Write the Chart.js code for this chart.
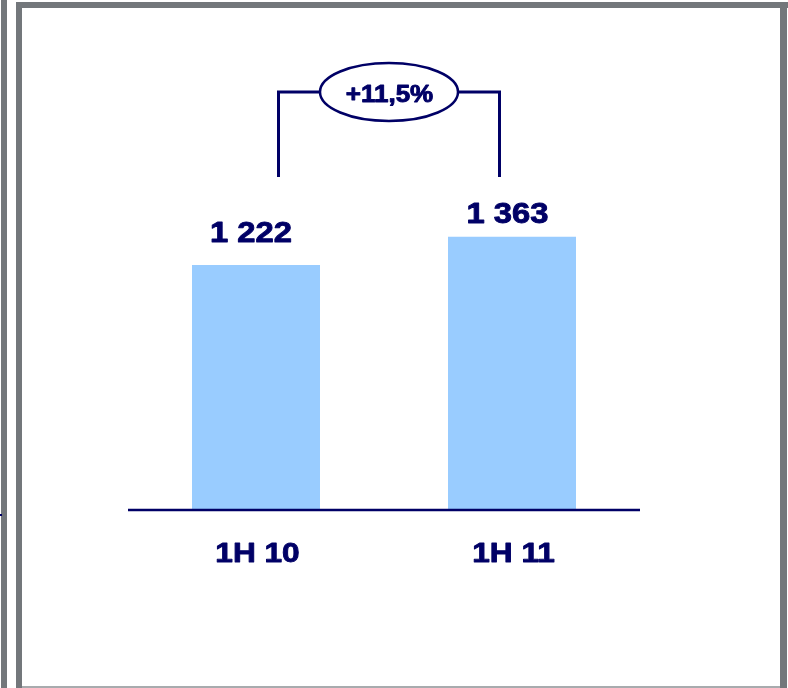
<!DOCTYPE html>
<html>
<head>
<meta charset="utf-8">
<script src="https://cdn.jsdelivr.net/npm/chart.js@4/dist/chart.umd.min.js"></script>
<style>
  html, body { margin: 0; padding: 0; background: #ffffff; }
  #wrap { position: relative; width: 788px; height: 688px; overflow: hidden; background: #fff; }
  .bar { position: absolute; background: #73777b; }
  canvas { position: absolute; left: 0; top: 0; }
</style>
</head>
<body>
<div id="wrap">
  <div class="bar" style="left:1px;top:0;width:6px;height:688px;"></div>
  <div class="bar" style="left:16px;top:2px;width:6px;height:686px;"></div>
  <div class="bar" style="left:16px;top:2px;width:772px;height:6px;"></div>
  <div class="bar" style="left:780px;top:2px;width:7px;height:686px;"></div>
  <div class="bar" style="left:22px;top:686px;width:758px;height:2px;background:#a8abae;"></div>
  <div style="position:absolute;left:0;top:514px;width:2px;height:2px;background:#000066;"></div>
  <canvas id="c" width="788" height="688"></canvas>
</div>
<script>
const categories = ['1H 10', '1H 11'];
const values = [1222, 1363];
const valueLabels = ['1 222', '1 363'];
const growthLabel = '+11,5%';

const NAVY = '#000066';
const FONT = '"Liberation Sans", Arial, sans-serif';
const STRETCH = 1.13;

function stretchedText(ctx, text, x, y, size) {
  ctx.save();
  ctx.font = 'bold ' + size + 'px ' + FONT;
  ctx.textAlign = 'center';
  ctx.textBaseline = 'alphabetic';
  ctx.fillStyle = NAVY;
  ctx.strokeStyle = NAVY;
  ctx.lineWidth = 0.9;
  ctx.lineJoin = 'round';
  ctx.translate(x, y);
  ctx.scale(STRETCH, 1);
  ctx.fillText(text, 0, 0);
  ctx.strokeText(text, 0, 0);
  ctx.restore();
}

const decor = {
  id: 'decor',
  afterDatasetsDraw(chart) {
    const ctx = chart.ctx;
    const xs = chart.scales.x;
    const ys = chart.scales.y;
    const area = chart.chartArea;
    const base = ys.getPixelForValue(0);

    // baseline
    ctx.save();
    ctx.strokeStyle = NAVY;
    ctx.lineWidth = 2.5;
    ctx.beginPath();
    ctx.moveTo(area.left, base);
    ctx.lineTo(area.right, base);
    ctx.stroke();
    ctx.restore();

    const labelDy = [-23, -14];
    const labelDx = [-5, -4.5];
    values.forEach((v, i) => {
      const x = xs.getPixelForValue(i);
      const top = ys.getPixelForValue(v);
      stretchedText(ctx, valueLabels[i], x + labelDx[i], top + labelDy[i], 29);
      stretchedText(ctx, categories[i], x + 1.5, base + 52, 28);
    });

    // growth bracket
    const x1 = xs.getPixelForValue(0) + 22.5;
    const x2 = xs.getPixelForValue(1) - 12.5;
    const yTop = 92, yBot = 177;
    const cx = 389, rx = 69, ry = 29;
    ctx.save();
    ctx.strokeStyle = NAVY;
    ctx.lineWidth = 3;
    ctx.beginPath();
    ctx.moveTo(x1, yBot); ctx.lineTo(x1, yTop); ctx.lineTo(cx - rx, yTop);
    ctx.moveTo(cx + rx, yTop); ctx.lineTo(x2, yTop); ctx.lineTo(x2, yBot);
    ctx.stroke();
    ctx.lineWidth = 2.5;
    ctx.beginPath();
    ctx.ellipse(cx, yTop, rx, ry, 0, 0, Math.PI * 2);
    ctx.fillStyle = '#ffffff';
    ctx.fill();
    ctx.stroke();
    ctx.restore();
    stretchedText(ctx, growthLabel, cx + 0.5, yTop + 10, 23);
  }
};

new Chart(document.getElementById('c'), {
  type: 'bar',
  data: {
    labels: categories,
    datasets: [{
      data: values,
      backgroundColor: '#99ccff',
      borderWidth: 0,
      barPercentage: 1,
      categoryPercentage: 0.5
    }]
  },
  options: {
    responsive: false,
    animation: false,
    events: [],
    layout: { padding: { left: 128, right: 148, top: 109, bottom: 178 } },
    plugins: { legend: { display: false }, tooltip: { enabled: false } },
    scales: {
      x: { display: false },
      y: { display: false, min: 0, max: 2000 }
    }
  },
  plugins: [decor]
});
</script>
</body>
</html>
